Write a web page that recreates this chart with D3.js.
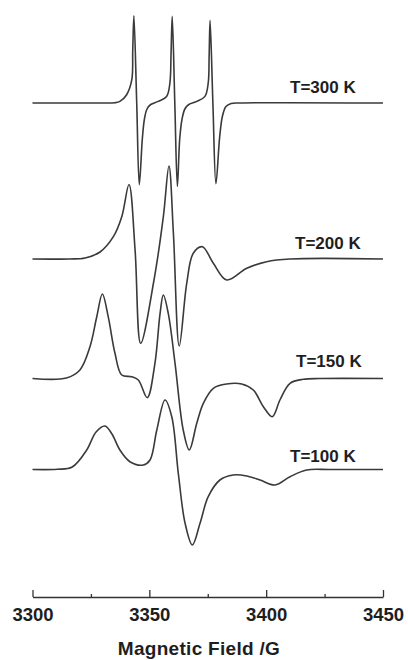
<!DOCTYPE html>
<html lang="en">

<head>
    <meta charset="UTF-8">
    <script src="https://cdn.jsdelivr.net/npm/d3@7"></script>
    <title>EPR spectra</title>
    <style>
        body {
            margin: 0;
            background: white;
        }

        text {
            font-family: 'Liberation Sans', Arial, sans-serif;
            font-weight: bold;
            fill: #1e1e1e;
        }

        .trace {
            fill: none;
            stroke: #3a3a3a;
            stroke-width: 1.6px;
        }
    </style>
</head>

<body>
    <div id="chart"></div>

    <script>
        // Spectra: [field (G), intensity (a.u., relative to own baseline)]
        const spec300 = [
            [3300, 0], [3328.9, 0], [3335.3, 0.3], [3337.4, 1.6], [3340.3, 8.3], [3342.5, 23.3],
            [3342.9, 53], [3343.4, 87.3], [3344.6, 0], [3345.7, -81.7], [3347.0, -36],
            [3347.9, -16], [3349.0, -6], [3350.6, -1.5], [3353.8, 1.6], [3357.4, 6.6], [3358.8, 20],
            [3359.3, 50], [3359.8, 86.6], [3360.9, 0], [3362.0, -83.4], [3363.0, -36],
            [3364.0, -16], [3365.2, -6], [3366.9, -1.5], [3370.3, 1.6], [3373.8, 6.6], [3375.2, 20],
            [3375.6, 48], [3376.0, 82.6], [3377.2, 0], [3378.5, -80.7], [3380.1, -34],
            [3381.3, -13], [3382.8, -3.5], [3385.0, -0.5], [3388.8, 0], [3450, 0]
        ];
        const spec200 = [
            [3300, 0], [3316.0, 0], [3322.5, 1], [3328.9, 7], [3334.6, 22.3], [3338.2, 42.3],
            [3341.3, 74.5], [3343.9, 9], [3346.3, -84.3], [3352.0, -21], [3356.0, 42.3],
            [3358.4, 93], [3360.3, 25.7], [3362.8, -87], [3366.0, -24.3], [3368.8, 5.7],
            [3372.7, 12.3], [3377.4, -4.3], [3383.1, -21], [3391.7, -9.3], [3400.2, -2.7],
            [3410.2, 0], [3450, 0]
        ];
        const spec150 = [
            [3300, 0], [3314.5, 0.5], [3320.3, 8.5], [3324.6, 31.8], [3327.5, 61.8], [3329.9, 84.5],
            [3332.4, 61.8], [3335.3, 25.2], [3338.2, 3.5], [3342.5, 1.8], [3345.3, -1.5],
            [3349.1, -19.2], [3352.4, 15.2], [3354.6, 65.2], [3356.0, 83.5], [3358.1, 65.2],
            [3361.0, 15.2], [3364.5, -51.5], [3367.1, -71.5], [3370.3, -44.8], [3373.1, -24.8],
            [3377.4, -9.8], [3383.1, -5.5], [3389.5, -5.5], [3394.5, -11.5], [3398.8, -28.2],
            [3402.6, -38.2], [3405.9, -21.5], [3410.2, -4.8], [3415.9, -0.8], [3423.0, 0], [3450, 0]
        ];
        const spec100 = [
            [3300, 0], [3310.5, 0.2], [3317.0, 2.5], [3323.2, 19.5], [3327.2, 37.5], [3331.0, 43.5],
            [3334.0, 35.5], [3337.4, 19.5], [3341.7, 7.8], [3347.4, 4.5], [3350.3, 9.5],
            [3353.2, 39.5], [3356.7, 69.5], [3359.6, 52.8], [3362.4, -3.8], [3365.3, -53.8],
            [3368.4, -75.5], [3371.7, -53.8], [3375.2, -27.2], [3380.2, -10.5], [3385.9, -5.5],
            [3391.7, -6.5], [3397.4, -10.5], [3403.8, -15.5], [3410.2, -7.2], [3417.3, -0.5],
            [3427.3, 0], [3450, 0]
        ];

        const temps = ["T=300 K", "T=200 K", "T=150 K", "T=100 K"];
        const offsets = [494, 338, 218.5, 127.5];
        const spectra = [spec300, spec200, spec150, spec100];

        const majorTicks = [3300, 3350, 3400, 3450];
        const minorTicks = [3325, 3375, 3425];
        const xTitle = "Magnetic Field /G";

        // Layout
        const width = 408;
        const height = 660;
        const axisY = 597;
        // label anchor points (left x, baseline y), in pixels
        const labelPos = [[290, 92.5], [295, 248.5], [296, 366.5], [290, 462]];

        const svg = d3.select("#chart").append("svg")
            .attr("width", width)
            .attr("height", height);

        const x = d3.scaleLinear().domain([3300, 3450]).range([32.5, 383]);
        const y = d3.scaleLinear().domain([0, 597]).range([axisY, 0]);

        const line = d3.line()
            .x(d => x(d[0]))
            .y(d => y(d[1]))
            .curve(d3.curveCatmullRom.alpha(0.5));

        spectra.forEach((s, i) => {
            svg.append("path")
                .attr("class", "trace")
                .attr("d", line(s.map(p => [p[0], p[1] + offsets[i]])));

            svg.append("text")
                .attr("x", labelPos[i][0])
                .attr("y", labelPos[i][1])
                .attr("font-size", "17px")
                .text(temps[i]);
        });

        // x axis, ticks point up
        const axisG = svg.append("g")
            .attr("transform", `translate(0,${axisY})`)
            .call(d3.axisBottom(x)
                .tickValues(majorTicks)
                .tickFormat(d3.format("d"))
                .tickSize(-7)
                .tickSizeOuter(0)
                .tickPadding(11));

        axisG.select(".domain").attr("stroke", "#333").attr("stroke-width", 1.3);
        axisG.selectAll(".tick line").attr("stroke", "#333").attr("stroke-width", 1.3);
        axisG.selectAll(".tick text")
            .attr("font-size", "18.5px")
            .attr("font-family", "'Liberation Sans', Arial, sans-serif")
            .attr("font-weight", "bold")
            .attr("fill", "#1e1e1e");

        const minorG = svg.append("g")
            .attr("transform", `translate(0,${axisY})`)
            .call(d3.axisBottom(x)
                .tickValues(minorTicks)
                .tickFormat("")
                .tickSize(-3)
                .tickSizeOuter(0));
        minorG.select(".domain").remove();
        minorG.selectAll(".tick line").attr("stroke", "#333").attr("stroke-width", 1.3);

        svg.append("text")
            .attr("x", 199)
            .attr("y", 655)
            .attr("text-anchor", "middle")
            .attr("font-size", "19px")
            .attr("letter-spacing", "0.3px")
            .text(xTitle);
    </script>
</body>

</html>
